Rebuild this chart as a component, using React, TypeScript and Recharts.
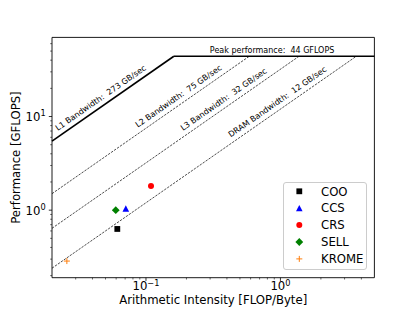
import React from 'react';
import {
  ComposedChart,
  XAxis,
  YAxis,
  Scatter,
  ReferenceLine,
  ReferenceArea,
  ReferenceDot,
  Legend,
  Label,
} from 'recharts';

// ---------- data ----------
const formatNames = ['COO', 'CCS', 'CRS', 'SELL', 'KROME'];
const intensity = [0.0612, 0.0708, 0.109, 0.0596, 0.0258];
const performance = [0.63, 1.04, 1.81, 1.0, 0.286];

const memLevels = ['L1', 'L2', 'L3', 'DRAM'];
const bandwidths = [273, 75, 32, 12];
const labelIntensity = [0.0232, 0.0912, 0.1977, 0.449];
const peakPerf = 44;
const peakLabelIntensity = 0.867;

const xDomain = [0.02, 5];
const yDomain = [0.19, 70];
const xTicks = [0.03, 0.04, 0.05, 0.06, 0.07, 0.08, 0.09, 0.1, 0.2, 0.3, 0.4, 0.5, 0.6, 0.7, 0.8, 0.9, 1, 2, 3, 4];
const yTicks = [0.2, 0.3, 0.4, 0.5, 0.6, 0.7, 0.8, 0.9, 1, 2, 3, 4, 5, 6, 7, 8, 9, 10, 20, 30, 40, 50, 60];

// ---------- styles ----------
const FONT = 'DejaVu Sans';
const W = 415;
const H = 311;
const Y_AXIS_W = 52;
const X_AXIS_H = 33.3;
const MARGIN = { top: 37.4, right: 40.6, bottom: 0, left: 0 };
const ANGLE = -34.85;
const markerColors: Record<string, string> = {
  COO: '#000000',
  CCS: '#0000ff',
  CRS: '#ff0000',
  SELL: '#008000',
  KROME: '#ff7f0e',
};

const isMajor = (v: number) => {
  const l = Math.log10(v);
  return Math.abs(l - Math.round(l)) < 1e-6;
};
const expText = (v: number) => {
  const e = Math.round(Math.log10(v));
  return e < 0 ? '\u2212' + Math.abs(e) : String(e);
};

function Marker({ kind, cx, cy }: { kind: string; cx: number; cy: number }) {
  const c = markerColors[kind];
  switch (kind) {
    case 'COO':
      return <rect x={cx - 2.9} y={cy - 2.9} width={5.8} height={5.8} fill={c} />;
    case 'CCS':
      return (
        <polygon
          points={`${cx},${cy - 3.3} ${cx - 3.3},${cy + 3.1} ${cx + 3.3},${cy + 3.1}`}
          fill={c}
        />
      );
    case 'CRS':
      return <circle cx={cx} cy={cy} r={3} fill={c} />;
    case 'SELL':
      return (
        <polygon
          points={`${cx},${cy - 3.9} ${cx + 3.9},${cy} ${cx},${cy + 3.9} ${cx - 3.9},${cy}`}
          fill={c}
        />
      );
    case 'KROME':
    default:
      return (
        <g stroke={c} strokeWidth={1}>
          <line x1={cx - 3} y1={cy} x2={cx + 3} y2={cy} />
          <line x1={cx} y1={cy - 3} x2={cx} y2={cy + 3} />
        </g>
      );
  }
}

const XTick = (props: any) => {
  const { x, y, payload } = props;
  const v = payload.value;
  const major = isMajor(v);
  return (
    <g>
      <line x1={x} y1={y} x2={x} y2={y + (major ? 3.2 : 1.8)} stroke="#000" strokeWidth={major ? 0.8 : 0.6} />
      {major && (
        <text x={x} y={y + 12.6} textAnchor="middle" fontFamily={FONT} fontSize={11.7} fill="#000">
          10
          <tspan dy={-4.8} fontSize={8.2}>
            {expText(v)}
          </tspan>
        </text>
      )}
    </g>
  );
};

const YTick = (props: any) => {
  const { x, y, payload } = props;
  const v = payload.value;
  const major = isMajor(v);
  return (
    <g>
      <line x1={x - (major ? 3.2 : 1.8)} y1={y} x2={x} y2={y} stroke="#000" strokeWidth={major ? 0.8 : 0.6} />
      {major && (
        <text x={x - 6.4} y={y + 4.6} textAnchor="end" fontFamily={FONT} fontSize={11.7} fill="#000">
          10
          <tspan dy={-4.8} fontSize={8.2}>
            {expText(v)}
          </tspan>
        </text>
      )}
    </g>
  );
};

const XTitle = (props: any) => {
  const vb = props.viewBox || {};
  return (
    <text
      x={vb.x + vb.width / 2}
      y={vb.y + 26.5}
      textAnchor="middle"
      fontFamily={FONT}
      fontSize={11.7}
      fill="#000"
    >
      Arithmetic Intensity [FLOP/Byte]
    </text>
  );
};

const YTitle = (props: any) => {
  const vb = props.viewBox || {};
  const cx = vb.x + vb.width - 32;
  const cy = vb.y + vb.height / 2;
  return (
    <text
      x={cx}
      y={cy}
      transform={`rotate(-90, ${cx}, ${cy})`}
      textAnchor="middle"
      fontFamily={FONT}
      fontSize={11.7}
      fill="#000"
    >
      Performance [GFLOPS]
    </text>
  );
};

const slopeLabel = (text: string, offset: number) => (p: any) => {
  const { cx, cy } = p;
  if (cx == null || cy == null) return <g />;
  return (
    <text
      x={cx}
      y={cy}
      dy={-offset}
      transform={`rotate(${ANGLE}, ${cx}, ${cy})`}
      fontFamily={FONT}
      fontSize={8}
      fill="#000"
      style={{ whiteSpace: 'pre' }}
    >
      {text}
    </text>
  );
};

const peakLabel = (text: string) => (p: any) => {
  const { cx, cy } = p;
  if (cx == null || cy == null) return <g />;
  return (
    <text
      x={cx}
      y={cy - 3}
      textAnchor="middle"
      fontFamily={FONT}
      fontSize={8}
      fill="#000"
      style={{ whiteSpace: 'pre' }}
    >
      {text}
    </text>
  );
};

const LegendBox = () => {
  const rowY = [9.3, 26.2, 43.1, 60, 76.9];
  return (
    <div
      style={{
        width: 84.6,
        height: 88.3,
        boxSizing: 'border-box',
        border: '0.8px solid #cccccc',
        borderRadius: 3,
        background: 'rgba(255,255,255,0.85)',
        position: 'relative',
      }}
    >
      <svg width={84.6} height={88.3} style={{ position: 'absolute', left: -0.8, top: -0.8, overflow: 'visible' }}>
        {formatNames.map((n, i) => (
          <g key={n}>
            <Marker kind={n} cx={16.3} cy={rowY[i]} />
            <text x={38} y={rowY[i] + 4.2} fontFamily={FONT} fontSize={11.7} fill="#000">
              {n}
            </text>
          </g>
        ))}
      </svg>
    </div>
  );
};

export default function App() {
  const seriesData = formatNames.map((n, i) => [{ x: intensity[i], y: performance[i], name: n }]);
  const xMin = xDomain[0];
  const xMax = xDomain[1];
  return (
    <div style={{ position: 'absolute', left: 0, top: 0, width: W, height: H, background: '#fff' }}>
      <ComposedChart width={W} height={H} margin={MARGIN}>
        <XAxis
          dataKey="x"
          type="number"
          scale="log"
          domain={xDomain}
          allowDataOverflow
          ticks={xTicks}
          interval={0}
          height={X_AXIS_H}
          tickSize={0}
          tickMargin={0}
          axisLine={false}
          tickLine={false}
          tick={<XTick />}
          label={<Label content={<XTitle />} />}
        />
        <YAxis
          dataKey="y"
          type="number"
          scale="log"
          domain={yDomain}
          allowDataOverflow
          ticks={yTicks}
          interval={0}
          width={Y_AXIS_W}
          tickSize={0}
          tickMargin={0}
          axisLine={false}
          tickLine={false}
          tick={<YTick />}
          label={<Label content={<YTitle />} />}
        />
        <ReferenceArea
          x1={xMin}
          x2={xMax}
          y1={yDomain[0]}
          y2={yDomain[1]}
          fill="none"
          fillOpacity={0}
          stroke="#000"
          strokeWidth={0.9}
          ifOverflow="visible"
        />
        {bandwidths.map((bw, i) => (
          <ReferenceLine
            key={memLevels[i]}
            segment={[
              { x: xMin, y: bw * xMin },
              { x: peakPerf / bw, y: peakPerf },
            ]}
            stroke="#000"
            strokeWidth={i === 0 ? 1.6 : 0.7}
            strokeDasharray={i === 0 ? undefined : '2.4 1.2'}
            ifOverflow="visible"
          />
        ))}
        <ReferenceLine
          segment={[
            { x: peakPerf / bandwidths[0], y: peakPerf },
            { x: xMax, y: peakPerf },
          ]}
          stroke="#000"
          strokeWidth={1.6}
          ifOverflow="visible"
        />
        {memLevels.map((m, i) => (
          <ReferenceDot
            key={'lbl' + m}
            x={labelIntensity[i]}
            y={bandwidths[i] * labelIntensity[i]}
            r={0}
            ifOverflow="visible"
            shape={slopeLabel(`${m} Bandwidth:  ${bandwidths[i]} GB/sec`, 5)}
          />
        ))}
        <ReferenceDot
          x={peakLabelIntensity}
          y={peakPerf}
          r={0}
          ifOverflow="visible"
          shape={peakLabel(`Peak performance:  ${peakPerf} GFLOPS`)}
        />
        {formatNames.map((n, i) => (
          <Scatter
            key={n}
            name={n}
            data={seriesData[i]}
            dataKey="y"
            fill={markerColors[n]}
            isAnimationActive={false}
            shape={(p: any) => <Marker kind={n} cx={p.cx} cy={p.cy} />}
          />
        ))}
        <Legend
          layout="horizontal"
          verticalAlign="middle"
          align="center"
          wrapperStyle={{ left: 282.7, top: 182, width: 84.6, height: 88.3 }}
          content={() => <LegendBox />}
        />
      </ComposedChart>
    </div>
  );
}
